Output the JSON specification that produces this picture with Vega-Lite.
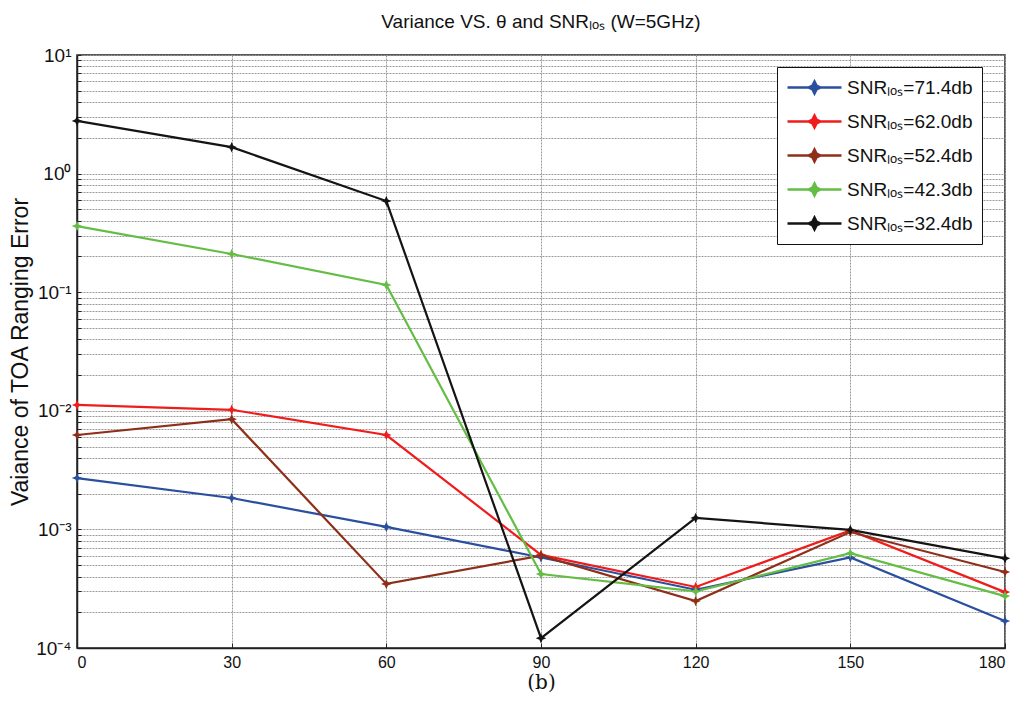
{
  "$schema": "https://vega.github.io/schema/vega-lite/v6.json",
  "width": 928,
  "height": 593,
  "autosize": {"type": "none"},
  "padding": {"left": 77, "top": 55, "right": 20, "bottom": 60},
  "background": "white",
  "title": {
    "text": "Variance VS. θ and SNRₗₒₛ  (W=5GHz)",
    "font": "Liberation Sans",
    "fontSize": 19,
    "fontWeight": "normal",
    "color": "#111",
    "anchor": "middle",
    "offset": 14
  },
  "config": {
    "view": {"stroke": "#222", "strokeWidth": 1.5},
    "axis": {
      "labelFont": "Liberation Sans",
      "labelFontSize": 16,
      "labelColor": "#111",
      "domainColor": "#222",
      "domainWidth": 1.5,
      "tickColor": "#222",
      "gridColor": "#9a9a9a",
      "gridDash": [2, 1],
      "gridWidth": 1
    }
  },
  "data": {
    "values": [
      {"theta": 0, "variance": 0.00271, "snr": "71.4"},
      {"theta": 30, "variance": 0.00184, "snr": "71.4"},
      {"theta": 60, "variance": 0.00105, "snr": "71.4"},
      {"theta": 90, "variance": 0.00058, "snr": "71.4"},
      {"theta": 120, "variance": 0.00031, "snr": "71.4"},
      {"theta": 150, "variance": 0.00058, "snr": "71.4"},
      {"theta": 180, "variance": 0.000169, "snr": "71.4"},
      {"theta": 0, "variance": 0.0112, "snr": "62.0"},
      {"theta": 30, "variance": 0.0102, "snr": "62.0"},
      {"theta": 60, "variance": 0.00625, "snr": "62.0"},
      {"theta": 90, "variance": 0.00061, "snr": "62.0"},
      {"theta": 120, "variance": 0.000327, "snr": "62.0"},
      {"theta": 150, "variance": 0.00098, "snr": "62.0"},
      {"theta": 180, "variance": 0.000296, "snr": "62.0"},
      {"theta": 0, "variance": 0.00625, "snr": "52.4"},
      {"theta": 30, "variance": 0.0085, "snr": "52.4"},
      {"theta": 60, "variance": 0.000347, "snr": "52.4"},
      {"theta": 90, "variance": 0.0006, "snr": "52.4"},
      {"theta": 120, "variance": 0.000249, "snr": "52.4"},
      {"theta": 150, "variance": 0.00095, "snr": "52.4"},
      {"theta": 180, "variance": 0.000437, "snr": "52.4"},
      {"theta": 0, "variance": 0.361, "snr": "42.3"},
      {"theta": 30, "variance": 0.21, "snr": "42.3"},
      {"theta": 60, "variance": 0.115, "snr": "42.3"},
      {"theta": 90, "variance": 0.00042, "snr": "42.3"},
      {"theta": 120, "variance": 0.0003, "snr": "42.3"},
      {"theta": 150, "variance": 0.00063, "snr": "42.3"},
      {"theta": 180, "variance": 0.000274, "snr": "42.3"},
      {"theta": 0, "variance": 2.78, "snr": "32.4"},
      {"theta": 30, "variance": 1.67, "snr": "32.4"},
      {"theta": 60, "variance": 0.587, "snr": "32.4"},
      {"theta": 90, "variance": 0.000121, "snr": "32.4"},
      {"theta": 120, "variance": 0.00125, "snr": "32.4"},
      {"theta": 150, "variance": 0.00099, "snr": "32.4"},
      {"theta": 180, "variance": 0.00057, "snr": "32.4"}
    ]
  },
  "encoding": {
    "x": {
      "field": "theta",
      "type": "quantitative",
      "scale": {"domain": [0, 180], "nice": false},
      "axis": {
        "values": [0, 30, 60, 90, 120, 150, 180],
        "title": "(b)",
        "titleFont": "DejaVu Serif",
        "titleFontSize": 20,
        "titleFontWeight": "normal",
        "titleColor": "#111",
        "titlePadding": 2,
        "tickSize": -5,
        "labelPadding": 11,
        "grid": true
      }
    },
    "y": {
      "field": "variance",
      "type": "quantitative",
      "scale": {"type": "log", "domain": [0.0001, 10], "nice": false},
      "axis": {
        "values": [0.0001,0.0002,0.0003,0.0004,0.0005,0.0006,0.0007,0.0008,0.0009,
                   0.001,0.002,0.003,0.004,0.005,0.006,0.007,0.008,0.009,
                   0.01,0.02,0.03,0.04,0.05,0.06,0.07,0.08,0.09,
                   0.1,0.2,0.3,0.4,0.5,0.6,0.7,0.8,0.9,
                   1,2,3,4,5,6,7,8,9,10],
        "labelExpr": "datum.value == 10 ? '10¹' : datum.value == 1 ? '10⁰' : datum.value == 0.1 ? '10⁻¹' : datum.value == 0.01 ? '10⁻²' : datum.value == 0.001 ? '10⁻³' : datum.value == 0.0001 ? '10⁻⁴' : ''",
        "labelOverlap": false,
        "labelFont": "Liberation Sans",
        "labelFontSize": 19,
        "labelPadding": 10,
        "tickSize": -4,
        "title": "Vaiance of TOA Ranging Error",
        "titleFont": "Liberation Sans",
        "titleFontSize": 23,
        "titleFontWeight": "normal",
        "titleColor": "#111",
        "titlePadding": 3,
        "grid": true
      }
    },
    "color": {
      "field": "snr",
      "type": "nominal",
      "sort": ["71.4", "62.0", "52.4", "42.3", "32.4"],
      "scale": {
        "domain": ["71.4", "62.0", "52.4", "42.3", "32.4"],
        "range": ["#2a4f9e", "#f01c1c", "#8e2f1a", "#64bd45", "#141414"]
      },
      "legend": {
        "orient": "none",
        "legendX": 700,
        "legendY": 12,
        "title": null,
        "labelExpr": "'SNRₗₒₛ=' + datum.label + 'db'",
        "labelFont": "Liberation Sans",
        "labelFontSize": 19,
        "labelColor": "#111",
        "labelLimit": 300,
        "symbolType": "M-1,0L4.4,0M1.7,-0.6L1.9,-0.2L2.3,0L1.9,0.2L1.7,0.6L1.5,0.2L1.1,0L1.5,-0.2Z",
        "symbolSize": 400,
        "symbolStrokeWidth": 2.5,
        "rowPadding": 11,
        "padding": 9,
        "strokeColor": "#111",
        "fillColor": "white",
        "labelOffset": 38
      }
    }
  },
  "layer": [
    {
      "mark": {"type": "line", "strokeWidth": 2.2}
    },
    {
      "mark": {
        "type": "point",
        "filled": true,
        "opacity": 1,
        "size": 110,
        "shape": "M0,-1L0.3,-0.3L1,0L0.3,0.3L0,1L-0.3,0.3L-1,0L-0.3,-0.3Z"
      }
    }
  ]
}
